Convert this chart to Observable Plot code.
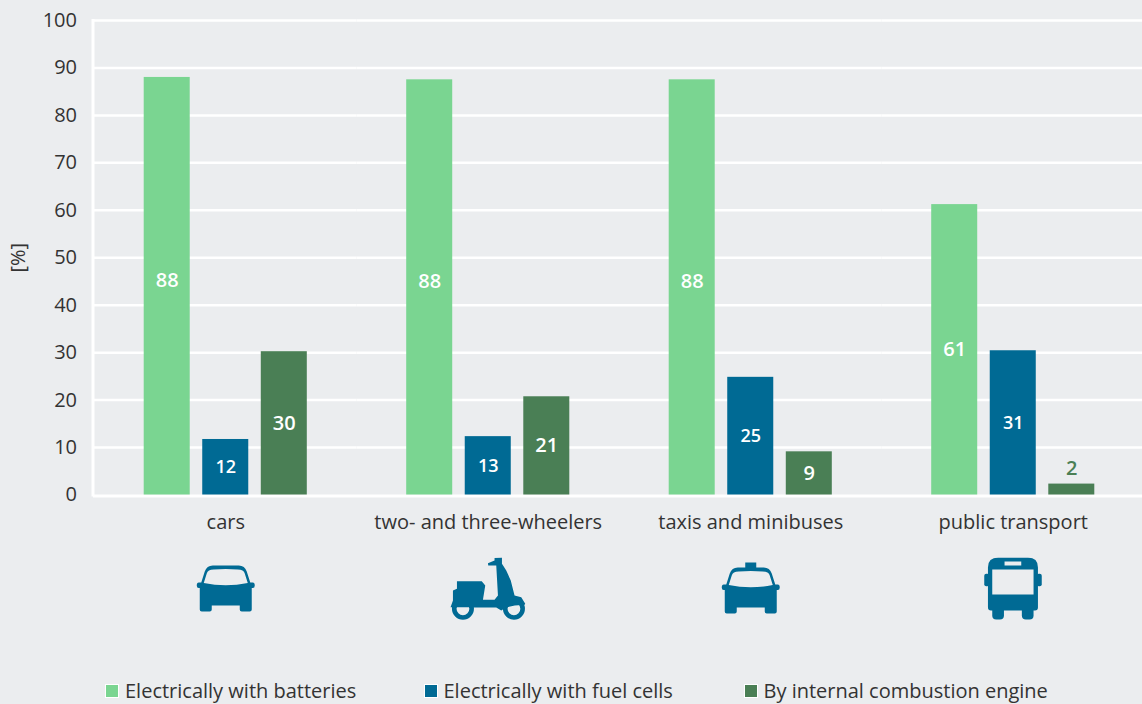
<!DOCTYPE html>
<html>
<head>
<meta charset="utf-8">
<script src="https://cdn.jsdelivr.net/npm/d3@7"></script>
<script src="https://cdn.jsdelivr.net/npm/@observablehq/plot@0.6"></script>
<style>
  html, body { margin: 0; padding: 0; background: #ebedef; overflow: hidden; }
  body { width: 1142px; height: 704px; position: relative; font-family: "Open Sans", sans-serif; color: #333; }
  #chart svg { display: block; background: transparent; }
  .leg { position: absolute; top: 679px; height: 24px; line-height: 24px; font-size: 20px; white-space: nowrap; padding-left: 20px; }
  .leg i { position: absolute; left: 0; top: 5px; width: 12px; height: 12px; border: 0.5px solid #fff; box-sizing: content-box; }
</style>
</head>
<body>
<div id="chart"></div>
<script>
const categories = ["cars", "two- and three-wheelers", "taxis and minibuses", "public transport"];
const seriesNames = ["Electrically with batteries", "Electrically with fuel cells", "By internal combustion engine"];
const batteries = [88, 87.5, 87.5, 61.2];
const fuelCells = [11.7, 12.3, 24.8, 30.4];
const combustion = [30.2, 20.7, 9.1, 2.3];
const batteryLabels = [88, 88, 88, 61];
const fuelCellLabels = [12, 13, 25, 31];
const combustionLabels = [30, 21, 9, 2];
const colors = ["#7ad591", "#006a94", "#4a7f55"];
const yTicks = [0, 10, 20, 30, 40, 50, 60, 70, 80, 90, 100];

const icon = "#006a94";
const carPath = "M27 8H53Q59 8 61 14L64.5 25H67Q69 25 69 28Q69 30.5 67 30.5H66V52Q66 54 64 54H56Q54 54 54 52V48H26V52Q26 54 24 54H16Q14 54 14 52V30.5H13Q11 30.5 11 28Q11 25 13 25H15.5L19 14Q21 8 27 8ZM28 12Q22 12 21 16L18 25.5Q40 30 62 25.5L59 16Q58 12 52 12Q40 11 28 12Z";
const svgIcon = body => "data:image/svg+xml," + encodeURIComponent(
  `<svg xmlns="http://www.w3.org/2000/svg" width="80" height="64" viewBox="0 0 80 64">${body}</svg>`);
const icons = [
  svgIcon(`<path fill="${icon}" fill-rule="evenodd" d="${carPath}"/>`),
  svgIcon(`<g fill="none" stroke="${icon}" stroke-width="4.6"><circle cx="14.7" cy="51.3" r="8.7"/><circle cx="65.7" cy="51.3" r="8.7"/></g>
    <path fill="${icon}" d="M46.3 0.5L53.7 0L53.7 6.3L58 13L62.5 23L66.3 38L73 39.7L77 46.3L76 47.5Q66 47 57 50.5L53 53L48 50L26.3 50L23 49.7L2.3 49.7L4.7 43L4.7 33L8.7 31.3L8.7 23.7L33.5 23.7L37 28L34.7 42.3L46.3 42.3L49.7 38L48 8L40 8L39.7 5.7L46.3 3Z"/>`),
  svgIcon(`<rect x="34.5" y="5" width="11" height="7" fill="${icon}"/><path transform="translate(0 2)" fill="${icon}" fill-rule="evenodd" d="${carPath}"/>`),
  svgIcon(`<rect x="11" y="16.3" width="5" height="12.4" rx="2" fill="${icon}"/><rect x="63.5" y="16.3" width="5" height="12.4" rx="2" fill="${icon}"/>
    <rect x="19" y="48" width="11.7" height="14" rx="4" fill="${icon}"/><rect x="48.6" y="48" width="11.7" height="14" rx="4" fill="${icon}"/>
    <path fill="${icon}" fill-rule="evenodd" d="M25 0H54.7Q64.7 0 64.7 10V50Q64.7 53 61.7 53H17.7Q14.7 53 14.7 50V10Q14.7 0 25 0ZM19 12V37H60.3V12ZM31.3 4V8H48V4Z"/>`)
];

const bars = [];
const labels = [];
categories.forEach((c, i) => {
  [batteries, fuelCells, combustion].forEach((vals, s) => {
    bars.push({category: c, series: seriesNames[s], value: vals[i]});
  });
  [batteryLabels, fuelCellLabels, combustionLabels].forEach((vals, s) => {
    labels.push({category: c, series: seriesNames[s], value: [batteries, fuelCells, combustion][s][i], label: vals[i]});
  });
});
const iconRows = categories.map((c, i) => ({category: c, src: icons[i]}));
const tall = d => d.value > 80;
const tiny = d => d.value < 5;
const isFuel = d => d.series === seriesNames[1];
const labelText = (filter, o) => Plot.text(labels.filter(filter), {
  fx: "category", x: "series", y: d => tiny(d) ? d.value : d.value / 2, text: d => String(d.label),
  fontSize: 20, fontWeight: 600, ...o
});

const chart = Plot.plot({
  width: 1142, height: 660,
  marginLeft: 94, marginRight: -2, marginTop: 20, marginBottom: 165.5,
  style: {fontFamily: "'Open Sans', sans-serif", fontSize: "20px", color: "#333", background: "transparent", overflow: "visible"},
  fx: {domain: categories, paddingInner: 0, paddingOuter: 0, round: false, label: null},
  x: {domain: seriesNames, paddingInner: 0.214, paddingOuter: 0.849, round: false, axis: null},
  y: {domain: [0, 100], label: null},
  color: {domain: seriesNames, range: colors},
  marks: [
    Plot.ruleY(yTicks.slice(1), {stroke: "#fff", strokeWidth: 2.5}),
    Plot.frame({anchor: "left", stroke: "#fff", strokeWidth: 3, dx: -1.5, facet: "super"}),
    Plot.frame({anchor: "bottom", stroke: "#fff", strokeWidth: 3, dy: 1, facet: "super"}),
    Plot.axisY({ticks: yTicks, tickSize: 0, tickPadding: 17.5, label: "[%]", labelAnchor: "center", labelArrow: "none", labelOffset: 84, fontSize: 20, fill: "#333"}),
    Plot.axisFx({anchor: "bottom", tickSize: 0, tickPadding: 20, label: null, fontSize: 20, fill: "#333"}),
    Plot.barY(bars, {fx: "category", x: "series", y: "value", fill: "series"}),
    labelText(d => !tall(d) && !tiny(d) && !isFuel(d), {fill: "#fff"}),
    labelText(d => isFuel(d), {fill: "#fff", fontSize: 18}),
    labelText(tall, {fill: "#fff", dy: -6}),
    labelText(tiny, {fill: colors[2], dy: -15}),
    Plot.image(iconRows, {fx: "category", src: "src", width: 80, height: 64, frameAnchor: "bottom", dy: 94.5})
  ]
});
document.getElementById("chart").append(chart);

const legendLeft = [105, 423.5, 743.5];
seriesNames.forEach((name, i) => {
  const d = document.createElement("div");
  d.className = "leg";
  d.style.left = legendLeft[i] + "px";
  d.innerHTML = `<i style="background:${colors[i]}"></i>${name}`;
  document.body.append(d);
});
</script>
</body>
</html>
